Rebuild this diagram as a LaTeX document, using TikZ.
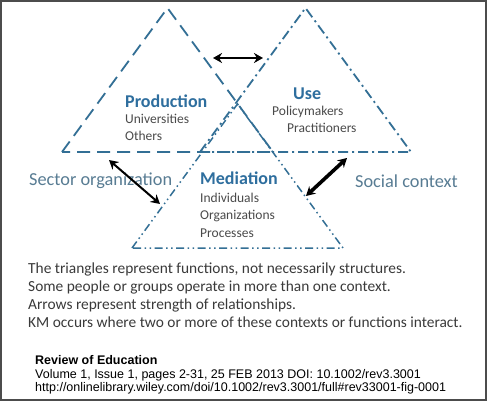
\documentclass[tikz,border=0pt]{standalone}
\usepackage{fontspec}
\setmainfont{Carlito}
\newfontfamily\arialf{Liberation Sans}
\usetikzlibrary{arrows.meta}
\definecolor{triline}{HTML}{336F95}
\definecolor{headblue}{HTML}{2E6E9E}
\definecolor{subgray}{HTML}{4A4A4A}
\definecolor{ctxblue}{HTML}{587C93}
\definecolor{bodygray}{HTML}{3A3A3A}
\tikzset{
  tri/.style={draw=triline, line width=1.8pt},
  prodline/.style={tri, dash pattern=on 13pt off 7pt},
  useline/.style={tri, dash pattern=on 10pt off 4pt on 2pt off 4pt},
  medline/.style={tri, line width=1.5pt, dash pattern=on 8pt off 3.5pt on 1.5pt off 3.5pt on 1.5pt off 3.5pt},
  head/.style={anchor=base west, inner sep=0pt, text=headblue, font=\fontsize{18}{18}\selectfont\bfseries},
  sub/.style={anchor=base west, inner sep=0pt, text=subgray, font=\fontsize{13.5}{13.5}\selectfont},
  ctx/.style={anchor=base west, inner sep=0pt, text=ctxblue, font=\fontsize{18.3}{18}\selectfont},
  body/.style={anchor=base west, inner sep=0pt, text=bodygray, font=\fontsize{15.4}{15.4}\selectfont},
  captext/.style={anchor=base west, inner sep=0pt, text=black, font=\arialf\fontsize{12.5}{13}\selectfont},
  rel/.style={draw=black, {Stealth[length=9pt,width=10pt]}-{Stealth[length=9pt,width=10pt]}},
}
\begin{document}
\begin{tikzpicture}[x=1pt,y=-1pt]
\useasboundingbox (0,0) rectangle (487,401);
\fill[white] (0,0) rectangle (487,401);
\draw[draw=black!70, line width=1.5pt] (1,1) rectangle (486,400);
% triangle corners
\coordinate (pL) at (62,152);
\coordinate (pR) at (273,152);
\coordinate (pT) at (167.5,8);
\coordinate (uL) at (200,152);
\coordinate (uR) at (411,152);
\coordinate (uT) at (305.5,8);
\coordinate (mL) at (132,248);
\coordinate (mR) at (343,248);
\coordinate (mT) at (237.5,104);
\draw[prodline] (pL) -- (pT) -- (pR) -- cycle;
\draw[useline] (uL) -- (uT) -- (uR) -- cycle;
\draw[medline] (mL) -- (mT) -- (mR) -- cycle;
% labels
\node[head] (prod) at (125,108) {Production};
\node[sub] (univ) at (125,124) {Universities};
\node[sub] (oth) at (125,141) {Others};
\node[head] (use) at (293,100) {Use};
\node[sub] (pol) at (272,116) {Policymakers};
\node[sub] (prac) at (287,132) {Practitioners};
\node[head] (med) at (200,184) {Mediation};
\node[sub] (ind) at (200,202) {Individuals};
\node[sub] (org) at (200,219) {Organizations};
\node[sub] (proc) at (200,237) {Processes};
\node[ctx] (sector) at (29,185) {Sector organization};
\node[ctx] (social) at (355,187) {Social context};
% arrows
\coordinate (a1) at (213,58);
\coordinate (a2) at (263,58);
\coordinate (b1) at (109,160);
\coordinate (b2) at (160,204);
\coordinate (c1) at (347,158);
\coordinate (c2) at (306,196);
\draw[rel, line width=2.2pt] (a1) -- (a2);
\draw[rel, line width=2pt] (b1) -- (b2);
\draw[rel, line width=3.6pt] (c1) -- (c2);
% notes
\node[body] (n1) at (28,273) {The triangles represent functions, not necessarily structures.};
\node[body] (n2) at (28,291) {Some people or groups operate in more than one context.};
\node[body] (n3) at (28,309) {Arrows represent strength of relationships.};
\node[body] (n4) at (28,327) {KM occurs where two or more of these contexts or functions interact.};
\node[captext, font=\arialf\fontsize{12.5}{13}\selectfont\bfseries] (c0) at (35,364) {Review of Education};
\node[captext] (c3) at (35,378) {Volume 1, Issue 1, pages 2-31, 25 FEB 2013 DOI: 10.1002/rev3.3001};
\node[captext] (c4) at (35,391) {http://onlinelibrary.wiley.com/doi/10.1002/rev3.3001/full\#rev33001-fig-0001};
\end{tikzpicture}
\end{document}
